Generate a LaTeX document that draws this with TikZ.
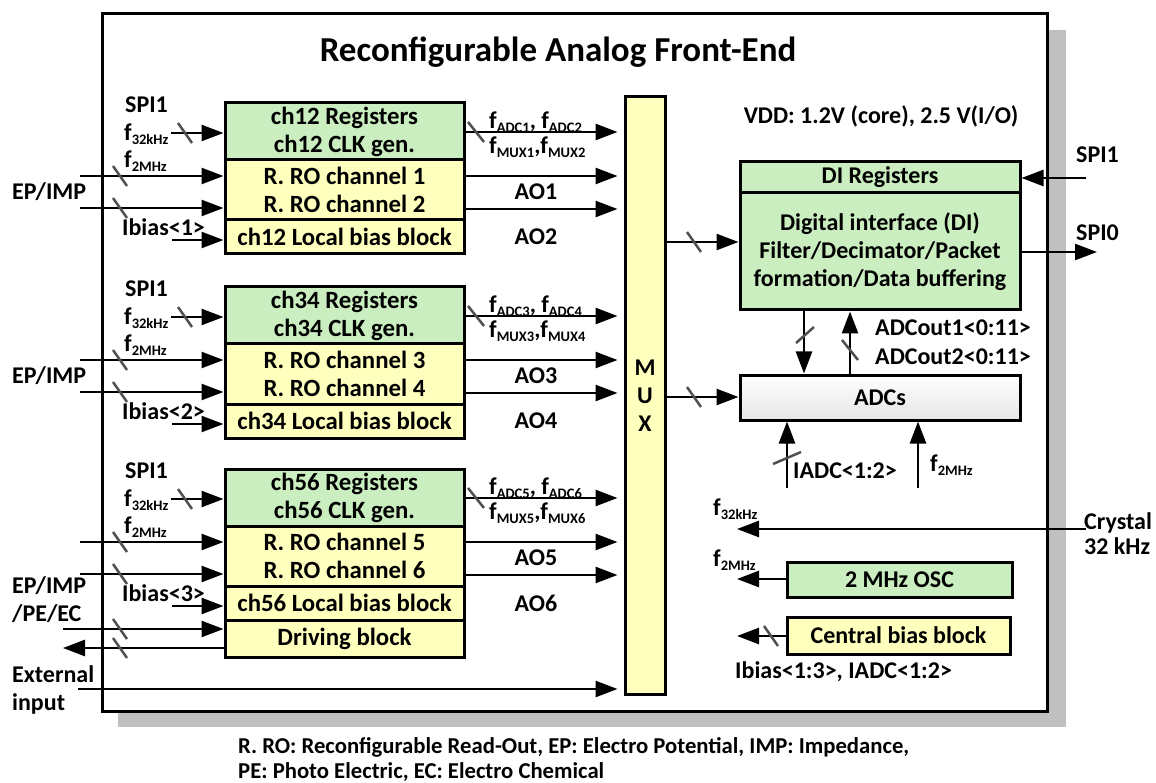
\documentclass[tikz,border=0pt]{standalone}
\usepackage{fontspec}
\setmainfont{Carlito}
\usetikzlibrary{arrows.meta}
\definecolor{rgreen}{RGB}{202,238,192}
\definecolor{ryellow}{RGB}{255,255,190}
\definecolor{rshadow}{RGB}{192,192,192}
\definecolor{rslash}{RGB}{80,80,80}
\newcommand\lblfont{\fontsize{24}{28}\selectfont\bfseries}
\newcommand\blkfont{\fontsize{24.8}{28}\selectfont\bfseries}
\newcommand\sbs[1]{\raisebox{-0.35ex}{\fontsize{14.5}{15}\selectfont #1}}
\newcommand\fq[1]{f\sbs{#1}}
\begin{document}
\begin{tikzpicture}[x=1pt,y=-1pt,
  box/.style={draw, line width=3pt, inner sep=0pt, align=center, font=\blkfont},
  chbox/.style={box, minimum width=239pt},
  grn/.style={fill=rgreen},
  ylw/.style={fill=ryellow},
  wire/.style={line width=2.6pt, -{Triangle[length=22pt,width=16pt]}},
  slsh/.style={line width=2.5pt, draw=rslash},
  lab/.style={font=\lblfont, inner sep=0pt, anchor=west},
]
\useasboundingbox (0,0) rectangle (1156,783);
\node[fill=rshadow, minimum width=948pt, minimum height=697pt, inner sep=0pt] (shadow) at (592,378.5) {};
\node[draw, line width=3pt, fill=white, minimum width=945pt, minimum height=697pt, inner sep=0pt] (frame) at (574.5,362.5) {};
\node[font=\fontsize{35}{40}\selectfont\bfseries] (title) at (558,52) {Reconfigurable Analog Front-End};

% MUX
\node[box, ylw, minimum width=40pt, minimum height=597pt, font=\lblfont] (mux) at (645,395.5) {M\\U\\X};

% channel blocks
\foreach \T/\ca/\cb/\n/\bi in {103/1/2/12/1, 287/3/4/34/2, 469/5/6/56/3}{
  \node[chbox, grn, minimum height=57pt] (reg\n) at (344.5,\T+28.5) {ch\n{} Registers\\ch\n{} CLK gen.};
  \node[chbox, ylw, minimum height=60pt] (ro\n) at (344.5,\T+87) {R. RO channel \ca\\R. RO channel \cb};
  \node[chbox, ylw, minimum height=34pt] (bias\n) at (344.5,\T+134) {ch\n{} Local bias block};
  % inputs
  \coordinate (a32\n) at (171,\T+30);
  \draw[wire] (a32\n) -- (reg\n.west |- a32\n);
  \draw[slsh] (185,\T+30) ++(-7,-10) -- ++(14,20);
  \coordinate (a2m\n) at (80,\T+73);
  \draw[wire] (a2m\n) -- (ro\n.west |- a2m\n);
  \draw[slsh] (120,\T+73) ++(-7,-10) -- ++(14,20);
  \coordinate (aep\n) at (80,\T+105);
  \draw[wire] (aep\n) -- (ro\n.west |- aep\n);
  \draw[slsh] (120,\T+105) ++(-7,-10) -- ++(14,20);
  \coordinate (ab\n) at (172,\T+137);
  \draw[wire] (ab\n) -- (bias\n.west |- ab\n);
  \node[lab] (spi\n) at (125,\T+2) {SPI1};
  \node[lab] (l32\n) at (124,\T+31) {\fq{32kHz}};
  \node[lab] (l2m\n) at (124,\T+58) {\fq{2MHz}};
  \node[lab] (lib\n) at (122,\T+124) {Ibias<\bi>};
  % outputs
  \coordinate (o1\n) at (0,\T+29);
  \draw[wire, shorten >=6pt] (reg\n.east |- o1\n) -- (mux.west |- o1\n);
  \draw[slsh] (476,\T+29) ++(-8,-10) -- ++(16,20);
  \node[lab] (fa\n) at (489,\T+19) {\fq{ADC\ca}, \fq{ADC\cb}};
  \node[lab] (fm\n) at (489,\T+44) {\fq{MUX\ca},\fq{MUX\cb}};
  \coordinate (o2\n) at (0,\T+73);
  \draw[wire, shorten >=6pt] (ro\n.east |- o2\n) -- (mux.west |- o2\n);
  \coordinate (o3\n) at (0,\T+106);
  \draw[wire, shorten >=6pt] (ro\n.east |- o3\n) -- (mux.west |- o3\n);
  \node[lab, anchor=center] (aol\ca) at (536,\T+89) {AO\ca};
  \node[lab, anchor=center] (aol\cb) at (536,\T+134) {AO\cb};
}
\node[lab] (ep12) at (12,192) {EP/IMP};
\node[lab] (ep34) at (12,376) {EP/IMP};
\node[lab, align=left] (ep56) at (12,600) {EP/IMP\\/PE/EC};

% driving block
\node[chbox, ylw, minimum height=37pt] (drive) at (344.5,638.5) {Driving block};
\coordinate (din) at (63,629);
\draw[wire] (din) -- (drive.west |- din);
\draw[slsh] (120,629) ++(-7,-10) -- ++(14,20);
\coordinate (dout) at (63,648);
\draw[wire] (drive.west |- dout) -- (dout);
\draw[slsh] (120,648) ++(-7,-10) -- ++(14,20);

% external input
\coordinate (ext) at (78,689);
\draw[wire, shorten >=6pt] (ext) -- (mux.west |- ext);
\node[lab, align=left] (extl) at (12,690) {External\\input};

% digital interface
\node[lab, anchor=center] (vdd) at (881,116) {VDD: 1.2V (core), 2.5 V(I/O)};
\node[box, grn, minimum width=280pt, minimum height=31pt, font=\lblfont] (direg) at (880,177.5) {DI Registers};
\node[box, grn, minimum width=280pt, minimum height=117pt, font=\lblfont] (di) at (880,251.5) {Digital interface (DI)\\Filter/Decimator/Packet\\formation/Data buffering};
\node[box, minimum width=280pt, minimum height=45pt, font=\lblfont, top color=white, bottom color=gray!20] (adc) at (880,397.5) {ADCs};

\coordinate (spi1r) at (1086,178);
\draw[wire] (spi1r) -- (direg.east |- spi1r);
\node[lab] (spi1l) at (1076,155) {SPI1};
\coordinate (spi0r) at (1097,252);
\draw[wire] (di.east |- spi0r) -- (spi0r);
\node[lab] (spi0l) at (1076,233) {SPI0};

\coordinate (md) at (0,242);
\draw[wire] (mux.east |- md) -- (di.west |- md);
\draw[slsh] (694,242) ++(-7,-10) -- ++(14,20);
\coordinate (ma) at (0,397);
\draw[wire] (mux.east |- ma) -- (adc.west |- ma);
\draw[slsh] (694,397) ++(-7,-10) -- ++(14,20);

\coordinate (dd) at (804,0);
\draw[wire] (di.south -| dd) -- (adc.north -| dd);
\draw[slsh] (805,335) ++(-9,8) -- ++(18,-16);
\coordinate (du) at (850,0);
\draw[wire] (adc.north -| du) -- (di.south -| du);
\draw[slsh] (850,350) ++(-8,-10) -- ++(16,20);
\node[lab] (adco1) at (875,328) {ADCout1<0:11>};
\node[lab] (adco2) at (875,357) {ADCout2<0:11>};

\coordinate (iadc) at (787,488);
\draw[wire] (iadc) -- (adc.south -| iadc);
\draw[slsh] (787,458) ++(-14,6) -- ++(28,-12);
\node[lab] (iadcl) at (793,471) {IADC<1:2>};
\coordinate (f2a) at (918,488);
\draw[wire] (f2a) -- (adc.south -| f2a);
\node[lab] (f2al) at (930,465) {\fq{2MHz}};

% clocks and bias
\coordinate (xtal) at (1086,529);
\coordinate (f32o) at (737,529);
\draw[wire] (xtal) -- (f32o);
\node[lab] (f32l) at (713,509) {\fq{32kHz}};
\node[lab, align=left, font=\fontsize{24}{25}\selectfont\bfseries] (xtall) at (1084,534) {Crystal\\32 kHz};

\node[box, grn, minimum width=225pt, minimum height=35pt, font=\lblfont] (osc) at (899.5,579.5) {2 MHz OSC};
\coordinate (f2o) at (737,579);
\draw[wire] (osc.west |- f2o) -- (f2o);
\node[lab] (f2l) at (713,560) {\fq{2MHz}};

\node[box, ylw, minimum width=223pt, minimum height=37pt, font=\lblfont] (cb) at (898.5,635.5) {Central bias block};
\coordinate (cbo) at (737,636);
\draw[wire] (cb.west |- cbo) -- (cbo);
\draw[slsh] (771,636) ++(-7,-10) -- ++(14,20);
\node[lab] (cbl) at (735,672) {Ibias<1:3>, IADC<1:2>};

% footer
\node[lab, font=\fontsize{22.7}{26}\selectfont\bfseries] (foot1) at (238,747) {R. RO: Reconfigurable Read-Out, EP: Electro Potential, IMP: Impedance,};
\node[lab, font=\fontsize{22.7}{26}\selectfont\bfseries] (foot2) at (238,772) {PE: Photo Electric, EC: Electro Chemical};
\end{tikzpicture}
\end{document}
